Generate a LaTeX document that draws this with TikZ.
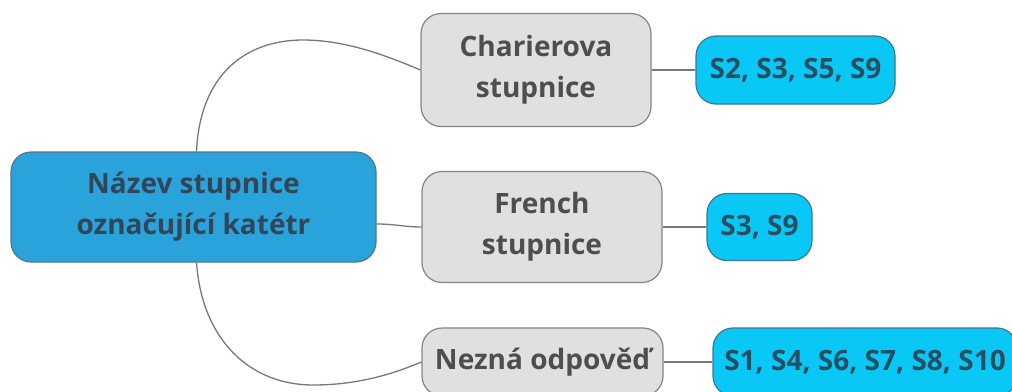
\documentclass[tikz,border=0pt]{standalone}
\usepackage{fontspec}
\setmainfont{Open Sans}
\usetikzlibrary{calc}
\definecolor{rootblue}{RGB}{42,163,219}
\definecolor{rootedge}{RGB}{78,118,140}
\definecolor{branchgray}{RGB}{224,224,224}
\definecolor{branchedge}{RGB}{132,132,132}
\definecolor{leafcyan}{RGB}{10,200,245}
\definecolor{leafedge}{RGB}{62,118,145}
\definecolor{inkblue}{RGB}{50,70,90}
\definecolor{inkgray}{RGB}{78,78,78}
\definecolor{inkteal}{RGB}{40,78,100}
\definecolor{linkgray}{RGB}{120,120,120}
\begin{document}
\begin{tikzpicture}[x=1pt,y=-1pt,
  base/.style={rounded corners=20pt, line width=1.2pt, align=center,
    font=\bfseries\fontsize{28}{41}\selectfont, inner sep=0pt},
  root/.style={base, fill=rootblue, draw=rootedge, text=inkblue},
  branch/.style={base, fill=branchgray, draw=branchedge, text=inkgray},
  leaf/.style={base, fill=leafcyan, draw=leafedge, text=inkteal},
  link/.style={draw=linkgray, line width=1.3pt}]
\useasboundingbox (0,0) rectangle (1012,391);

% central topic
\node[root, minimum width=365pt, minimum height=110pt] (c) at (193.5,207)
  {Název stupnice\\označující katétr};

% scale names
\node[branch, minimum width=230pt, minimum height=113pt] (b1) at (536,70)
  {Charierova\\stupnice};
\node[branch, minimum width=240pt, minimum height=111pt] (b2) at (542,227)
  {French\\stupnice};
\node[branch, minimum width=241pt, minimum height=68pt] (b3) at (542.5,362)
  {Nezná odpověď};

% respondents
\node[leaf, minimum width=199pt, minimum height=68pt] (l1) at (795.5,70)
  {S2, S3, S5, S9};
\node[leaf, minimum width=105pt, minimum height=67pt] (l2) at (759.5,227)
  {S3, S9};
\node[leaf, minimum width=304pt, minimum height=68pt] (l3) at (865,362)
  {S1, S4, S6, S7, S8, S10};

% connectors
\path[link] ([xshift=3pt]c.north) .. controls (200,75) and (245,40) .. (303,40)
  .. controls (345,40) and (385,55) .. (b1.west);
\path[link] ($(c.east)+(0,17)$) .. controls (395,224) and (405,227) .. (b2.west);
\path[link] ([xshift=3pt]c.south) .. controls (202,340) and (250,385) .. (313,385)
  .. controls (360,385) and (395,373) .. (b3.west);
\path[link] (b1.east) -- (l1.west);
\path[link] (b2.east) -- (l2.west);
\path[link] (b3.east) -- (l3.west);
\end{tikzpicture}
\end{document}
